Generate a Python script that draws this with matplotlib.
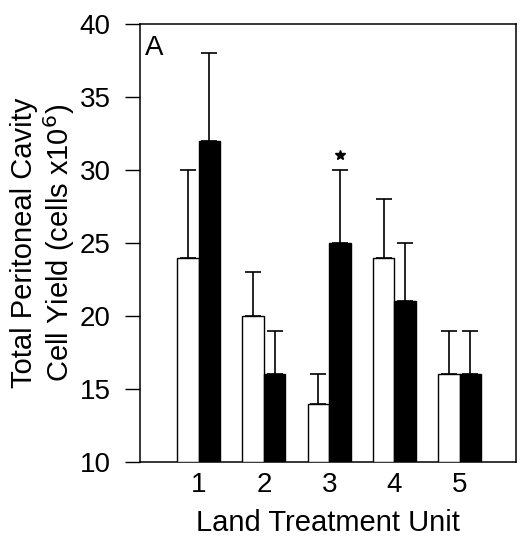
import matplotlib.pyplot as plt
import numpy as np

plt.rcParams['font.family'] = ['Liberation Sans', 'DejaVu Sans']

# Cell yield per land treatment unit (open = control, filled = treated)
units = ['1', '2', '3', '4', '5']
open_mean = [24, 20, 14, 24, 16]
open_err = [6, 3, 2, 4, 3]
filled_mean = [32, 16, 25, 21, 16]
filled_err = [6, 3, 5, 4, 3]
sig_unit = 3  # marked with asterisk
sig_y = 31

x = np.arange(1, len(units) + 1)
w = 0.33

fig = plt.figure(figsize=(5.21, 5.38), dpi=100)
ax = fig.add_axes([0.2687, 0.1413, 0.7213, 0.8141])

bottom = 10
ax.bar(x - w / 2, np.array(open_mean) - bottom, w, bottom=bottom,
       color='white', edgecolor='black', linewidth=1.0, zorder=3)
ax.bar(x + w / 2, np.array(filled_mean) - bottom, w, bottom=bottom,
       color='black', edgecolor='black', linewidth=1.0, zorder=3)

# upper-only error bars
ax.errorbar(x - w / 2, open_mean, yerr=[np.zeros(len(x)), open_err],
            fmt='none', ecolor='black', elinewidth=1.2, capsize=6, capthick=1.2, zorder=2)
ax.errorbar(x + w / 2, filled_mean, yerr=[np.zeros(len(x)), filled_err],
            fmt='none', ecolor='black', elinewidth=1.2, capsize=6, capthick=1.2, zorder=2)

ax.plot(sig_unit + w / 2, sig_y, marker='*', color='black', markersize=7, linestyle='none')

ax.set_ylim(10, 40)
ax.set_xlim(0.1, 5.86)
ax.set_yticks([10, 15, 20, 25, 30, 35, 40])
ax.set_xticks(x)
ax.set_xticklabels(units)
ax.tick_params(axis='y', direction='out', length=11, width=1, labelsize=20, pad=10)
ax.tick_params(axis='x', length=0, labelsize=20, pad=7)

for s in ax.spines.values():
    s.set_linewidth(1.1)

ax.set_xlabel('Land Treatment Unit', fontsize=21, labelpad=8)
ax.set_ylabel('Total Peritoneal Cavity\nCell Yield (cells x10$^6$)', fontsize=21,
              labelpad=2, linespacing=1.1)
ax.text(0.013, 0.975, 'A', transform=ax.transAxes, fontsize=20, va='top', ha='left')

plt.savefig('out.png', dpi=100)
